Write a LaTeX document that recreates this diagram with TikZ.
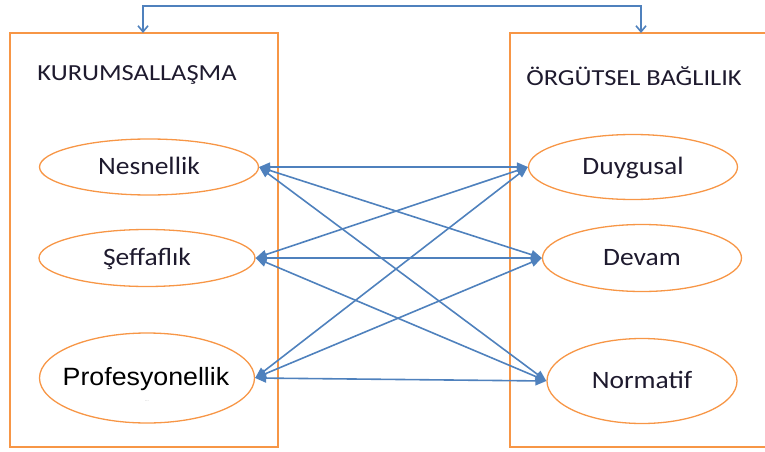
\documentclass[tikz,border=0pt]{standalone}
\usepackage{fontspec}
\setmainfont{Carlito}
\newfontfamily\arialf{Liberation Sans}
\usetikzlibrary{shapes.geometric,arrows.meta}
\definecolor{org}{HTML}{F79646}
\definecolor{blu}{HTML}{4F81BD}
\definecolor{txt}{HTML}{1E1A2E}
\newcommand{\wx}[1]{\scalebox{1.1}[1]{#1}}
\newcommand{\wt}[1]{\scalebox{1.15}[1]{#1}}
\begin{document}
\begin{tikzpicture}[x=1pt,y=-1pt,
  boxst/.style={draw=org,line width=1.8pt,rectangle,inner sep=0pt},
  ell/.style={draw=org,line width=1.3pt,ellipse,inner sep=0pt,text=txt,
    font=\fontsize{25}{25}\selectfont,text height=15pt,text depth=0pt},
  link/.style={draw=blu,line width=1.6pt,{Triangle[length=11pt,width=9pt]}-{Triangle[length=11pt,width=9pt]}},
  topl/.style={draw=blu,line width=1.6pt,{Straight Barb[length=6pt,width=10pt]}-{Straight Barb[length=6pt,width=10pt]}},
  ttl/.style={font=\fontsize{23}{23}\selectfont,inner sep=0pt,anchor=base,text=txt}]
\useasboundingbox (0,0) rectangle (765,452);
\node[boxst,minimum width=268pt,minimum height=414pt] (lbox) at (144,240) {};
\node[boxst,minimum width=280pt,minimum height=414pt] (rbox) at (650,240) {};
\node[ttl] (lt) at (137,81) {\wt{KURUMSALLAŞMA}};
\node[ttl] (rt) at (634,85) {\wt{ÖRGÜTSEL BAĞLILIK}};
\node[ell,minimum width=219pt,minimum height=56pt] (nes) at (149,167) {\wx{Nesnellik}};
\node[ell,minimum width=216pt,minimum height=57pt] (sef) at (147,258) {\wx{Şeffaflık}};
\node[ell,minimum width=215pt,minimum height=90pt] (pro) at (147,378) {};
\node[font=\arialf\fontsize{25}{25}\selectfont,inner sep=0pt,anchor=base] (prot) at (146,385) {\scalebox{1.07}[1]{Profesyonellik}};
\node[font=\fontsize{5}{5}\selectfont,text=gray!60,inner sep=0pt] (dots) at (147,401) {...};
\node[ell,minimum width=209pt,minimum height=65pt] (duy) at (633,167) {\wx{Duygusal}};
\node[ell,minimum width=199pt,minimum height=67pt] (dev) at (642,258) {\wx{Devam}};
\node[ell,minimum width=190pt,minimum height=85pt] (nor) at (642,381) {\wx{Normatif}};
\coordinate (tl) at (143,33);
\coordinate (tr) at (641,33);
\draw[topl] (tl) -- (143,6) -- (641,6) -- (tr);
\foreach \a in {nes,sef,pro}{
  \foreach \b in {duy,dev,nor}{
    \draw[link] (\a.east) -- (\b.west);
  }
}
\end{tikzpicture}
\end{document}
